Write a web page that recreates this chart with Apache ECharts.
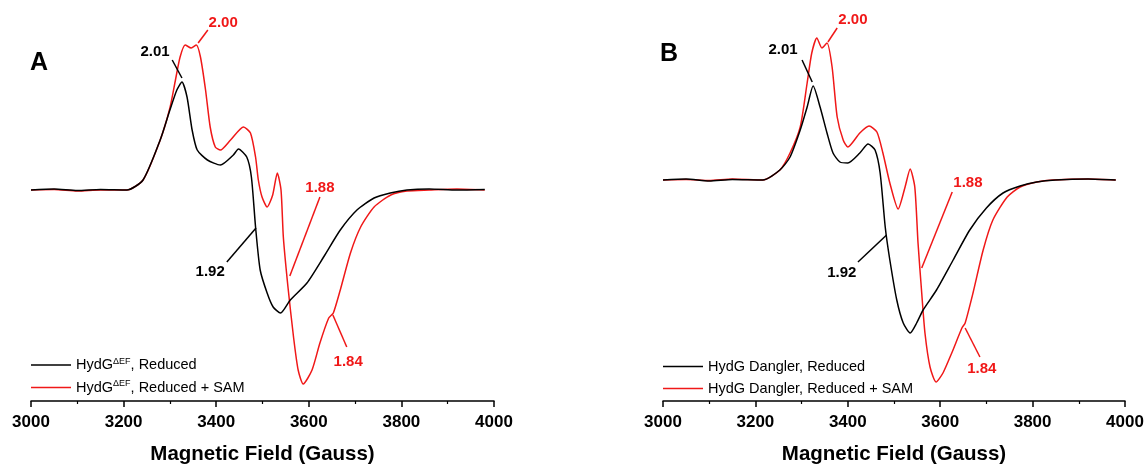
<!DOCTYPE html>
<html>
<head>
<meta charset="utf-8">
<script src="https://cdn.jsdelivr.net/npm/echarts@6/dist/echarts.min.js"></script>
<style>
  html, body { margin: 0; padding: 0; background: #fff; }
  #chart { width: 1147px; height: 466px; }
</style>
</head>
<body>
<div id="chart"></div>
<script>
// magnetic field (Gauss) and signal (arb. units)
const fieldA_black = [3000, 3050, 3100, 3150, 3207, 3242, 3279, 3300, 3315, 3326, 3337, 3348, 3359, 3381, 3409, 3437, 3448, 3466, 3476, 3485, 3495, 3510, 3523, 3539, 3560, 3596, 3632, 3668, 3704, 3741, 3776, 3812, 3860, 3920, 3980];
const signalA_black = [0, 1, -0.5, 0.5, 0, 10, 50, 80, 100, 108, 93, 60, 40, 30, 25, 35, 41, 33, 13, -37, -80, -103, -117, -123, -110, -93, -67, -40, -20, -8, -3, 0, 1, 0, 0.5];

const fieldA_red = [3000, 3050, 3100, 3150, 3207, 3242, 3279, 3300, 3312, 3322, 3333, 3346, 3357, 3366, 3377, 3387, 3398, 3409, 3431, 3459, 3474, 3485, 3491, 3499, 3510, 3522, 3532, 3540, 3545, 3555, 3567, 3577, 3588, 3607, 3624, 3643, 3653, 3668, 3690, 3712, 3741, 3777, 3812, 3860, 3920, 3980];
const signalA_red = [0, 0.5, -1, 0, 0, 10, 50, 82, 110, 133, 145, 142, 145, 133, 100, 63, 43, 40, 50, 63, 57, 33, 10, -7, -17, -5, 17, 0, -47, -97, -147, -180, -194, -180, -153, -128, -123, -100, -63, -37, -17, -5, -1, 0, 1, 0];

const fieldB_black = [3000, 3050, 3100, 3150, 3216, 3253, 3275, 3297, 3312, 3325, 3340, 3355, 3368, 3383, 3400, 3426, 3444, 3459, 3470, 3481, 3491, 3506, 3520, 3535, 3549, 3563, 3592, 3628, 3664, 3700, 3736, 3773, 3809, 3850, 3920, 3980];
const signalB_black = [0, 1, -1, 0.5, 0, 10, 23, 50, 73, 94, 73, 47, 27, 18, 17, 27, 36, 30, 7, -47, -80, -120, -143, -153, -143, -130, -110, -80, -50, -28, -13, -6, -2, 0, 1, 0];

const fieldB_red = [3000, 3050, 3100, 3150, 3216, 3253, 3275, 3297, 3312, 3322, 3333, 3344, 3355, 3366, 3377, 3390, 3400, 3426, 3446, 3463, 3476, 3491, 3509, 3524, 3535, 3545, 3552, 3560, 3567, 3578, 3591, 3606, 3625, 3647, 3654, 3671, 3693, 3714, 3745, 3773, 3809, 3844, 3920, 3980];
const signalB_red = [0, 0.5, -0.5, 1, 0, 10, 27, 53, 97, 127, 142, 132, 137, 113, 63, 40, 33, 47, 54, 48, 27, -3, -29, -7, 11, -7, -63, -113, -153, -187, -202, -193, -173, -148, -143, -113, -70, -40, -17, -7, -2, 0, 1, 0];

const namesA = ['HydG\u0394EF, Reduced', 'HydG\u0394EF, Reduced + SAM'];
const namesB = ['HydG Dangler, Reduced', 'HydG Dangler, Reduced + SAM'];

// g-value labels: [field, signal] of the text, then the two ends of its leader line
const labelsA = [
  { text: '2.01', color: 'black', at: [3268, 138], line: [[3305, 130], [3326, 112]] },
  { text: '2.00', color: 'red', at: [3415, 167], line: [[3382, 160], [3361, 147]] },
  { text: '1.88', color: 'red', at: [3624, 2], line: [[3624, -7], [3559, -86]] },
  { text: '1.92', color: 'black', at: [3387, -82], line: [[3423, -72], [3486, -38]] },
  { text: '1.84', color: 'red', at: [3685, -172], line: [[3682, -157], [3652, -125]] }
];
const labelsB = [
  { text: '2.01', color: 'black', at: [3260, 130], line: [[3301, 120], [3323, 98]] },
  { text: '2.00', color: 'red', at: [3411, 160], line: [[3377, 152], [3357, 138]] },
  { text: '1.88', color: 'red', at: [3660, -3], line: [[3626, -12], [3560, -88]] },
  { text: '1.92', color: 'black', at: [3387, -93], line: [[3422, -82], [3484, -55]] },
  { text: '1.84', color: 'red', at: [3690, -189], line: [[3686, -177], [3654, -148]] }
];

const RED = '#f01818';
const FONT = 'Arial, "Liberation Sans", sans-serif';

const zip = (xs, ys) => xs.map((x, i) => [x, ys[i]]);
const colorOf = (c) => (c === 'red' ? RED : '#000');

function spectrum(name, xs, ys, color, idx) {
  return {
    name,
    type: 'line',
    xAxisIndex: idx,
    yAxisIndex: idx,
    data: zip(xs, ys),
    showSymbol: false,
    smooth: 0.22,
    lineStyle: { color, width: 1.5 },
    itemStyle: { color },
    z: color === '#000' ? 3 : 2,
    silent: true,
  };
}

function annotations(labels, idx) {
  return [
    {
      type: 'lines',
      coordinateSystem: 'cartesian2d',
      xAxisIndex: idx,
      yAxisIndex: idx,
      silent: true,
      data: labels.map((l) => ({
        coords: l.line,
        lineStyle: { color: colorOf(l.color), width: 1.5, opacity: 1 },
      })),
      lineStyle: { opacity: 1 },
      z: 5,
    },
    {
      type: 'scatter',
      xAxisIndex: idx,
      yAxisIndex: idx,
      symbolSize: 1,
      itemStyle: { color: 'transparent', opacity: 1 },
      silent: true,
      data: labels.map((l) => ({
        name: l.text,
        value: l.at,
        label: { color: colorOf(l.color) },
      })),
      label: {
        show: true,
        position: 'inside',
        formatter: '{b}',
        fontFamily: FONT,
        fontWeight: 'bold',
        fontSize: 15,
        opacity: 1,
      },
      z: 6,
    },
  ];
}

function xAxis(idx) {
  return {
    type: 'value',
    gridIndex: idx,
    min: 3000,
    max: 4000,
    interval: 200,
    name: 'Magnetic Field (Gauss)',
    nameLocation: 'middle',
    nameGap: 43,
    nameTextStyle: { fontFamily: FONT, fontWeight: 'bold', fontSize: 20.5, color: '#000' },
    axisLine: { onZero: false, lineStyle: { color: '#000', width: 1.5 } },
    axisTick: { length: 6, lineStyle: { color: '#000', width: 1.5 } },
    minorTick: { show: true, splitNumber: 2, length: 3, lineStyle: { color: '#000', width: 1.2 } },
    axisLabel: {
      fontFamily: FONT,
      fontWeight: 'bold',
      fontSize: 17,
      color: '#000',
      margin: 13,
      formatter: (v) => String(v),
    },
    splitLine: { show: false },
  };
}

function legendFmt(name) {
  const m = name.match(/^HydG\u0394EF(.*)$/);
  if (m) return '{t|HydG}{s|\u0394EF}{t|' + m[1] + '}';
  return '{t|' + name + '}';
}

const legendStyle = {
  orient: 'vertical',
  icon: 'rect',
  itemWidth: 40,
  itemHeight: 1.5,
  itemGap: 7,
  formatter: legendFmt,
  textStyle: {
    fontFamily: FONT,
    fontSize: 14.5,
    color: '#000',
    rich: {
      t: { fontFamily: FONT, fontSize: 14.5, color: '#000' },
      s: { fontFamily: FONT, fontSize: 9, color: '#000', padding: [0, 0, 7, 0], verticalAlign: 'bottom' },
    },
  },
};

const chart = echarts.init(document.getElementById('chart'));
chart.setOption({
  backgroundColor: '#fff',
  animation: false,
  title: [
    { text: 'A', left: 25, top: 46, textStyle: { fontFamily: FONT, fontWeight: 'bold', fontSize: 25, color: '#000' } },
    { text: 'B', left: 655, top: 37, textStyle: { fontFamily: FONT, fontWeight: 'bold', fontSize: 25, color: '#000' } },
  ],
  legend: [
    Object.assign({ data: namesA, left: 26, top: 352 }, legendStyle),
    Object.assign({ data: namesB, left: 658, top: 354 }, legendStyle),
  ],
  grid: [
    { left: 31, right: 653, top: 10, bottom: 65, outerBoundsMode: 'none' },
    { left: 663, right: 22, top: 10, bottom: 65, outerBoundsMode: 'none' },
  ],
  xAxis: [xAxis(0), xAxis(1)],
  yAxis: [
    { type: 'value', gridIndex: 0, min: -211, max: 180, show: false },
    { type: 'value', gridIndex: 1, min: -221, max: 170, show: false },
  ],
  series: [
    spectrum(namesA[0], fieldA_black, signalA_black, '#000', 0),
    spectrum(namesA[1], fieldA_red, signalA_red, RED, 0),
    spectrum(namesB[0], fieldB_black, signalB_black, '#000', 1),
    spectrum(namesB[1], fieldB_red, signalB_red, RED, 1),
    ...annotations(labelsA, 0),
    ...annotations(labelsB, 1),
  ],
});
</script>
</body>
</html>
